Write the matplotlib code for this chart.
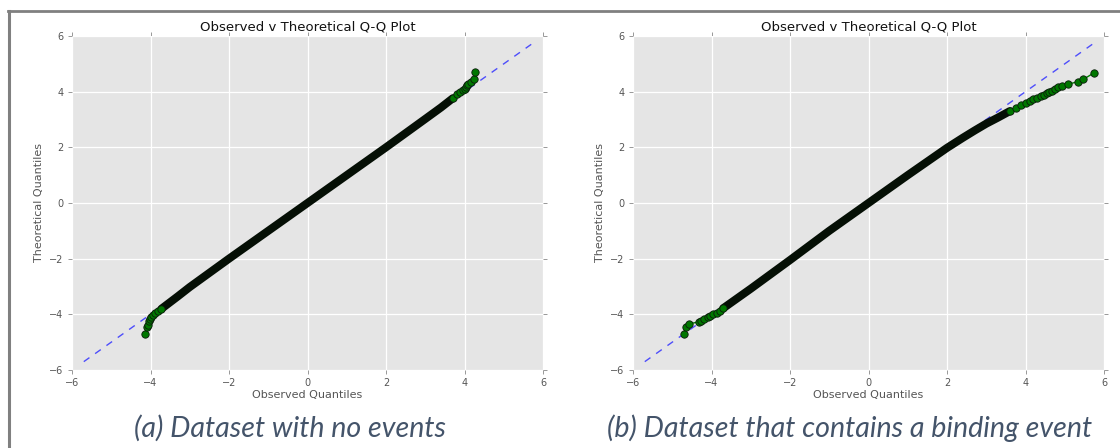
import numpy as np
import matplotlib
matplotlib.use('Agg')
import matplotlib.pyplot as plt
from matplotlib.lines import Line2D

# reference line (y = x)
ref_line = [-5.7, 5.7]

# panel (a): dataset with no events
a_low_x = [-4.14, -4.10, -4.07, -4.04, -4.02, -3.98, -3.93, -3.88, -3.80, -3.72]
a_low_y = [-4.70, -4.45, -4.38, -4.25, -4.18, -4.10, -4.02, -3.96, -3.88, -3.80]
a_body_x = [-3.72, -3.3, -3.0, -2.0, -1.0, 0.0, 1.0, 2.0, 3.0, 3.4, 3.70]
a_body_y = [-3.80, -3.35, -3.02, -2.0, -1.0, 0.0, 1.0, 2.0, 3.02, 3.43, 3.76]
a_up_x = [3.70, 3.80, 3.88, 3.95, 4.00, 4.04, 4.06, 4.10, 4.17, 4.25, 4.27]
a_up_y = [3.76, 3.90, 3.98, 4.05, 4.10, 4.18, 4.24, 4.28, 4.33, 4.44, 4.69]

# panel (b): dataset that contains a binding event
b_low_x = [-4.70, -4.66, -4.57, -4.31, -4.26, -4.18, -4.10, -4.03, -3.95, -3.86, -3.78, -3.70]
b_low_y = [-4.70, -4.46, -4.34, -4.27, -4.23, -4.16, -4.10, -4.05, -4.00, -3.95, -3.87, -3.78]
b_body_x = [-3.70, -3.0, -2.0, -1.0, 0.0, 1.0, 2.0, 2.4, 2.7, 3.0, 3.3, 3.60]
b_body_y = [-3.78, -3.08, -2.05, -1.0, 0.0, 1.0, 1.98, 2.34, 2.60, 2.85, 3.07, 3.30]
b_up_x = [3.60, 3.75, 3.89, 4.00, 4.12, 4.20, 4.29, 4.40, 4.47, 4.54, 4.61, 4.68, 4.74, 4.84, 4.93, 5.09, 5.34, 5.47, 5.75]
b_up_y = [3.30, 3.42, 3.52, 3.60, 3.67, 3.72, 3.76, 3.85, 3.88, 3.94, 4.00, 4.04, 4.08, 4.15, 4.21, 4.27, 4.36, 4.44, 4.68]

ticks = [-6, -4, -2, 0, 2, 4, 6]
captions = ['(a) Dataset with no events', '(b) Dataset that contains a binding event']
caption_x = [290, 850]

panels = [
    (a_low_x, a_low_y, a_body_x, a_body_y, a_up_x, a_up_y),
    (b_low_x, b_low_y, b_body_x, b_body_y, b_up_x, b_up_y),
]

fig = plt.figure(figsize=(11.2, 4.48), dpi=100)
fig.patch.set_facecolor('white')

lefts = [72 / 1120, 633 / 1120]
for i, (lx, ly, bx, by, ux, uy) in enumerate(panels):
    ax = fig.add_axes([lefts[i], 1 - 370 / 448, 471 / 1120, 334 / 448])
    ax.set_facecolor('#E5E5E5')
    for s in ax.spines.values():
        s.set_visible(False)
    ax.grid(True, color='white', lw=0.9)
    ax.set_axisbelow(True)

    ax.plot(ref_line, ref_line, '--', color='#3333ff', lw=1, alpha=0.85, dashes=(5, 5), zorder=2)
    # dense body of the sample: thousands of overlapping markers -> dark band
    ax.plot(bx, by, '-', color='#050f05', lw=5.8, solid_capstyle='round', zorder=3)
    for xs, ys in [(lx, ly), (ux, uy)]:
        ax.plot(xs, ys, 'o-', color='#008000', lw=1, ms=5.3,
                mfc='#007700', mec='#0a1a0a', mew=0.6, zorder=4)

    ax.set_xlim(-6, 6)
    ax.set_ylim(-6, 6)
    ax.set_xticks(ticks)
    ax.set_yticks(ticks)
    ax.set_xticklabels([str(t).replace('-', '\u2212') for t in ticks])
    ax.set_yticklabels([str(t).replace('-', '\u2212') for t in ticks])
    ax.tick_params(direction='out', length=3, width=0.6, color='#888888',
                   labelcolor='#555555', labelsize=7, pad=3,
                   top=True, right=True)
    ax.set_title('Observed v Theoretical Q-Q Plot', fontsize=9.5, color='#111111', pad=4)
    ax.set_xlabel('Observed Quantiles', fontsize=8, color='#555555', labelpad=1.5)
    ax.set_ylabel('Theoretical Quantiles', fontsize=8, color='#555555', labelpad=4)

    fig.text(caption_x[i] / 1120, 1 - 428 / 448, captions[i], ha='center', va='center',
             fontsize=20.6, style='italic', color='#44546A', family=['Lato', 'DejaVu Sans'])

# screenshot frame
fig.add_artist(Line2D([8 / 1120, 1.0], [1 - 11.5 / 448] * 2, color='#808080', lw=2))
fig.add_artist(Line2D([9 / 1120] * 2, [0, 1 - 11.5 / 448], color='#808080', lw=2.2))

fig.savefig('out.png', dpi=100)
